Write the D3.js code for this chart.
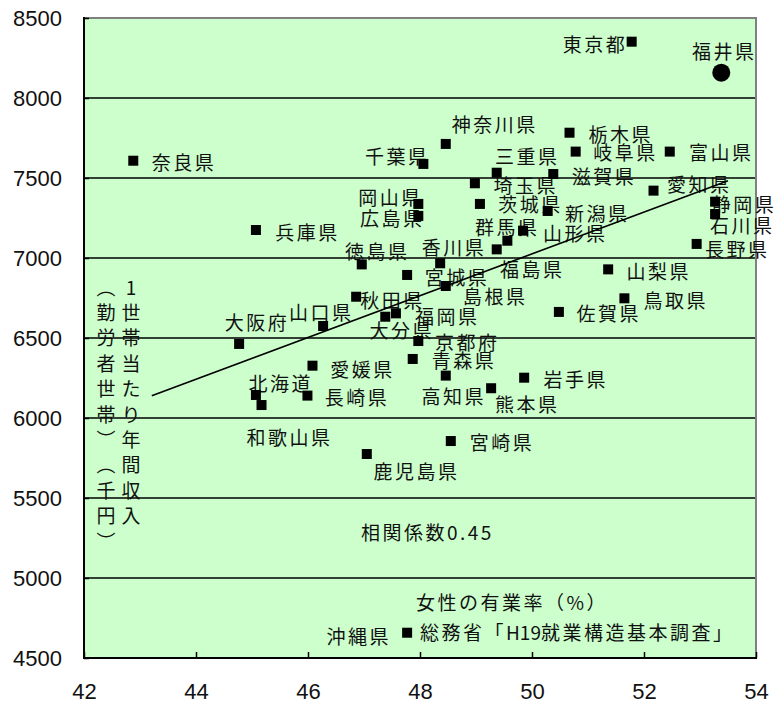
<!DOCTYPE html>
<html>
<head>
<meta charset="utf-8">
<script src="https://cdn.jsdelivr.net/npm/d3@7"></script>
<style>
  html, body { margin: 0; padding: 0; background: #ffffff; }
  svg { display: block; }
</style>
</head>
<body>
<svg id="chart" width="783" height="704"></svg>
<script>
// 都道府県別 女性の有業率（%）と 1世帯当たり年間収入（勤労者世帯, 千円）
const prefectures = [
  "東京都", "福井県", "奈良県", "神奈川県", "栃木県", "岐阜県", "富山県", "千葉県",
  "三重県", "滋賀県", "埼玉県", "愛知県", "岡山県", "茨城県", "新潟県", "静岡県",
  "広島県", "石川県", "山形県", "群馬県", "福島県", "長野県", "香川県", "宮城県",
  "島根県", "山梨県", "鳥取県", "佐賀県", "京都府", "青森県", "高知県", "岩手県",
  "熊本県", "兵庫県", "徳島県", "秋田県", "大分県", "福岡県", "山口県", "大阪府",
  "愛媛県", "北海道", "和歌山県", "長崎県", "宮崎県", "鹿児島県", "沖縄県"
];
// 女性の有業率（%）
const femaleRate = [
  51.78, 53.38, 42.88, 48.46, 50.67, 50.78, 52.46, 48.06,
  49.37, 50.38, 48.98, 52.17, 47.97, 49.07, 50.28, 53.27,
  47.97, 53.27, 49.84, 49.56, 49.37, 52.94, 48.36, 47.77,
  48.46, 51.36, 51.65, 50.48, 47.97, 47.87, 48.46, 49.86,
  49.27, 45.07, 46.96, 46.86, 47.38, 47.57, 46.27, 44.77,
  46.08, 45.07, 45.17, 45.99, 48.55, 47.05, 47.77
];
// 1世帯当たり年間収入（千円）
const income = [
  8352, 8158, 7608, 7713, 7783, 7665, 7665, 7588,
  7533, 7525, 7467, 7421, 7338, 7338, 7294, 7352,
  7263, 7275, 7171, 7108, 7054, 7088, 6967, 6894,
  6825, 6929, 6748, 6663, 6481, 6369, 6265, 6252,
  6186, 7175, 6960, 6758, 6633, 6654, 6575, 6463,
  6327, 6144, 6081, 6140, 5856, 5775, 4658
];
const highlighted = "福井県";

const xTicks = [42, 44, 46, 48, 50, 52, 54];
const yTicks = [4500, 5000, 5500, 6000, 6500, 7000, 7500, 8000, 8500];

// 回帰直線の両端（有業率, 年間収入）
const trendRate = [43.21, 53.5];
const trendIncome = [6139, 7483];

const yTitleRight = "1世帯当たり年間収入";
const yTitleLeft = "︵勤労者世帯︶︵千円︶";
const correlationText = "相関係数0.45";
const xTitleText = "女性の有業率（%）";
const sourceParts = ["総務省「", "H19", "就業構造基本調査」"];

// where each name sits relative to its marker: [dx to text start, dy to text middle]
const labelOffsets = {
  "東京都": [-69, 1.6], "福井県": [-29.3, -22.7], "奈良県": [18.4, 1], "神奈川県": [6, -20],
  "栃木県": [19, 0.6], "岐阜県": [17.6, 0], "富山県": [19.3, 0], "千葉県": [-58.3, -8],
  "三重県": [-1.7, -17], "滋賀県": [18.4, 1], "埼玉県": [18.6, 1.7], "愛知県": [13.4, -7.4],
  "岡山県": [-60, -7], "茨城県": [18.3, 0], "新潟県": [17.3, 1.5], "静岡県": [-3.3, 2.3],
  "広島県": [-58.3, 2], "石川県": [-5, 10], "山形県": [20, 1.8], "群馬県": [-32.3, -14],
  "福島県": [3.3, 19], "長野県": [8.3, 4.3], "香川県": [-18.3, -16.6], "宮城県": [17.7, 1.7],
  "島根県": [17.3, 9], "山梨県": [18.4, 0.7], "鳥取県": [19, 0.7], "佐賀県": [17.7, 0.5],
  "京都府": [16.7, 0.7], "青森県": [19, 1], "高知県": [-24.3, 20], "岩手県": [19.3, 0.6],
  "熊本県": [4, 15], "兵庫県": [19.3, 1.7], "徳島県": [-16.7, -14.3], "秋田県": [4, 3],
  "大分県": [-15.7, 13], "福岡県": [19, 1.7], "山口県": [-34, -14.3], "大阪府": [-14.3, -22.3],
  "愛媛県": [17.7, 3.3], "北海道": [-7.4, -12.5], "和歌山県": [-15, 31.7], "長崎県": [17.3, 1],
  "宮崎県": [19, 0], "鹿児島県": [6.6, 16.8], "沖縄県": [-80.6, 3]
};

const points = prefectures.map((name, i) => ({ name, rate: femaleRate[i], income: income[i] }));

const svg = d3.select("#chart");
const plot = { left: 84, right: 756, top: 18, bottom: 658 };

const x = d3.scaleLinear().domain([42, 54]).range([plot.left, plot.right]);
const y = d3.scaleLinear().domain([4500, 8500]).range([plot.bottom, plot.top]);

const jpFont = "'Noto Sans CJK JP', 'Noto Sans CJK SC', sans-serif";

// plot background
svg.append("rect")
  .attr("x", plot.left).attr("y", plot.top)
  .attr("width", plot.right - plot.left).attr("height", plot.bottom - plot.top)
  .attr("fill", "#ccffcc");

// horizontal gridlines
svg.append("g")
  .selectAll("line")
  .data(yTicks.filter(v => v > 4500 && v < 8500))
  .join("line")
  .attr("x1", plot.left).attr("x2", plot.right)
  .attr("y1", d => y(d)).attr("y2", d => y(d))
  .attr("stroke", "#000").attr("stroke-width", 1.3);

// top and right frame
svg.append("path")
  .attr("d", `M${plot.left},${y(8500)}H${plot.right}V${plot.bottom}`)
  .attr("fill", "none").attr("stroke", "#808080").attr("stroke-width", 2);

// y axis
const yAxis = svg.append("g")
  .attr("transform", `translate(${plot.left},0)`)
  .call(d3.axisLeft(y).tickValues(yTicks).tickFormat(d3.format("d")).tickSize(-5).tickPadding(22));
yAxis.select(".domain").remove();
yAxis.selectAll(".tick line").attr("stroke", "#000").attr("stroke-width", 1.5);
yAxis.selectAll(".tick text")
  .attr("fill", "#111")
  .style("font-family", "'Liberation Sans', Arial, sans-serif")
  .style("font-size", "22px");

// x axis
const xAxis = svg.append("g")
  .attr("transform", `translate(0,${plot.bottom})`)
  .call(d3.axisBottom(x).tickValues(xTicks).tickFormat(d3.format("d")).tickSize(-6).tickPadding(25));
xAxis.select(".domain").remove();
xAxis.selectAll(".tick line").attr("stroke", "#000").attr("stroke-width", 1.5);
xAxis.selectAll(".tick text")
  .attr("fill", "#111")
  .style("font-family", "'Liberation Sans Narrow', 'Liberation Sans', Arial, sans-serif")
  .style("font-size", "22px");

// axis lines
svg.append("path")
  .attr("d", `M${plot.left},${plot.top - 1}V${plot.bottom}H${plot.right + 1}`)
  .attr("fill", "none").attr("stroke", "#000").attr("stroke-width", 2);

// vertical y-axis title, two columns read right to left
const titleCols = [
  { text: yTitleRight, cx: 131 },
  { text: yTitleLeft, cx: 106 }
];
const titleG = svg.append("g")
  .style("font-family", jpFont).style("font-size", "19px").attr("fill", "#111");
titleCols.forEach(col => {
  titleG.selectAll(null)
    .data(Array.from(col.text))
    .join("text")
    .attr("x", col.cx)
    .attr("y", (d, i) => 286 + 25.4 * i)
    .attr("text-anchor", "middle")
    .attr("dominant-baseline", "central")
    .text(d => d);
});

// prefecture names
svg.append("g")
  .style("font-family", jpFont).style("font-size", "19px").style("letter-spacing", "2.5px")
  .attr("fill", "#111")
  .selectAll("text")
  .data(points)
  .join("text")
  .attr("x", d => x(d.rate) + labelOffsets[d.name][0])
  .attr("y", d => y(d.income) + labelOffsets[d.name][1])
  .attr("dominant-baseline", "central")
  .text(d => d.name);

// regression line
svg.append("path")
  .datum(trendRate.map((r, i) => [r, trendIncome[i]]))
  .attr("d", d3.line().x(d => x(d[0])).y(d => y(d[1])))
  .attr("fill", "none").attr("stroke", "#000").attr("stroke-width", 1.6);

// markers
const markerSize = 10;
svg.append("g")
  .selectAll("rect")
  .data(points.filter(d => d.name !== highlighted))
  .join("rect")
  .attr("x", d => x(d.rate) - markerSize / 2)
  .attr("y", d => y(d.income) - markerSize / 2)
  .attr("width", markerSize).attr("height", markerSize)
  .attr("fill", "#000");

svg.append("g")
  .selectAll("circle")
  .data(points.filter(d => d.name === highlighted))
  .join("circle")
  .attr("cx", d => x(d.rate)).attr("cy", d => y(d.income))
  .attr("r", 9).attr("fill", "#000");

// annotations
const noteG = svg.append("g")
  .style("font-family", jpFont).style("font-size", "19px").style("letter-spacing", "2.5px")
  .attr("fill", "#111");

noteG.append("text")
  .attr("x", 361).attr("y", 531.5).attr("dominant-baseline", "central")
  .text(correlationText);

noteG.append("text")
  .attr("x", 416).attr("y", 601.5).attr("dominant-baseline", "central")
  .text(xTitleText);

const src = noteG.append("text")
  .attr("x", 420).attr("y", 631).attr("dominant-baseline", "central");
src.append("tspan").text(sourceParts[0]);
src.append("tspan").style("letter-spacing", "0px").text(sourceParts[1]);
src.append("tspan").text(sourceParts[2]);
</script>
</body>
</html>
